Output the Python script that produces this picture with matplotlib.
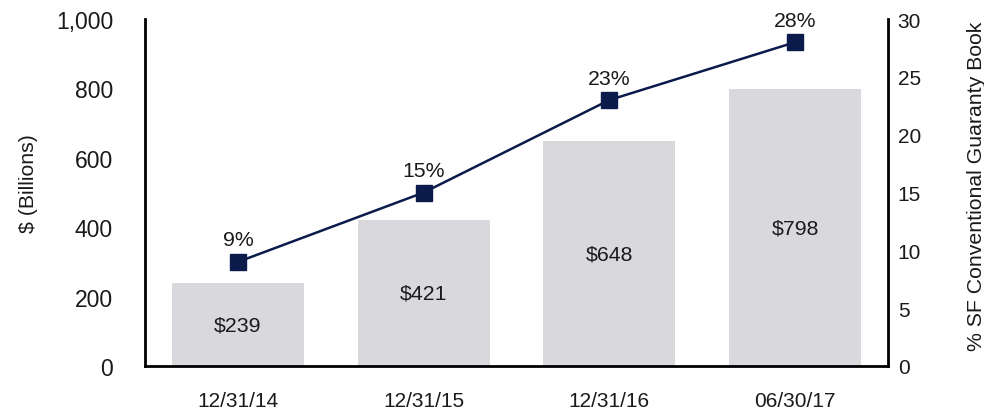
import matplotlib
matplotlib.use("Agg")
import matplotlib.pyplot as plt
from matplotlib.ticker import FuncFormatter

plt.rcParams['font.family'] = ['Liberation Sans', 'DejaVu Sans']

categories = ["12/31/14", "12/31/15", "12/31/16", "06/30/17"]
balances = [239, 421, 648, 798]
pct_book = [9, 15, 23, 28]

bar_color = "#d9d8dd"
line_color = "#0b1b4b"
text_color = "#1a1a1a"

fig = plt.figure(figsize=(9.84, 4.10), dpi=100)
ax = fig.add_axes([0.1474, 0.1049, 0.7550, 0.8461])
x = list(range(len(categories)))
bars = ax.bar(x, balances, width=0.71, color=bar_color, zorder=1)
for xi, v in zip(x, balances):
    ax.text(xi, v / 2, f"${v}", ha="center", va="center", fontsize=15.3, color=text_color)
ax.set_xlim(-0.5, len(categories) - 0.5)
ax.set_ylim(0, 1000)
ax.set_yticks(range(0, 1001, 200))
ax.yaxis.set_major_formatter(FuncFormatter(lambda v, p: f"{int(v):,}"))
ax.set_xticks(x)
ax.set_xticklabels(categories)
ax.tick_params(axis="both", length=0, colors=text_color)
ax.tick_params(axis="x", pad=18, labelsize=15)
ax.tick_params(axis="y", pad=23, labelsize=16.5)
ax.set_ylabel("$ (Billions)", fontsize=15.3, color=text_color, labelpad=13)
ax.yaxis.label.set_y(0.53)
for s in ["top", "right"]:
    ax.spines[s].set_visible(False)
for s in ["left", "bottom"]:
    ax.spines[s].set_linewidth(2)
    ax.spines[s].set_color("black")

ax2 = ax.twinx()
ax2.plot(x, pct_book, color=line_color, lw=1.8, marker="s", markersize=12, zorder=3)
for xi, v in zip(x, pct_book):
    ax2.annotate(f"{v}%", (xi, v), xytext=(0, 9), textcoords="offset points",
                 ha="center", va="bottom", fontsize=15.3, color=text_color)
ax2.set_ylim(0, 30)
ax2.set_yticks(range(0, 31, 5))
ax2.tick_params(axis="y", length=0, labelsize=15, colors=text_color, pad=7)
ax2.set_ylabel("% SF Conventional Guaranty Book", fontsize=15.3, color=text_color, labelpad=33)
ax2.yaxis.label.set_y(0.52)
for s in ["top", "left", "bottom"]:
    ax2.spines[s].set_visible(False)
ax2.spines["right"].set_linewidth(2)
ax2.spines["right"].set_color("black")

fig.savefig("out.png", dpi=100)
